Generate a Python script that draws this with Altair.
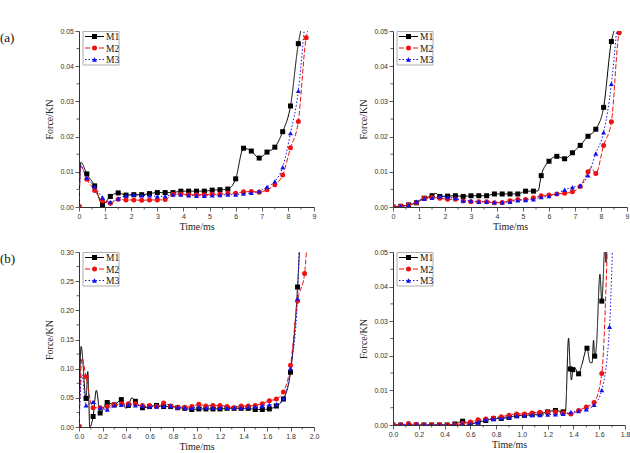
import altair as alt
import pandas as pd

SERIES = ["M1", "M2", "M3"]
COLORS = ["#000000", "#ee1111", "#1111ee"]
SHAPES = ["square", "circle", "triangle-up"]
DASHES = [[1, 0], [5, 2], [1.5, 2]]

# ---------------- panel (a), left ----------------
A1_t = [0.0, 0.3, 0.6, 0.9, 1.2, 1.5, 1.8, 2.1, 2.4, 2.7, 3.0, 3.3, 3.6, 3.9, 4.2,
        4.5, 4.8, 5.1, 5.4, 5.7, 6.0, 6.3, 6.6, 6.9, 7.2, 7.5, 7.8, 8.1, 8.4]
A1_t2 = A1_t + [8.7]
A1_m1 = [0.0, 0.0094, 0.0060, 0.0007, 0.0030, 0.0040, 0.0034, 0.0035, 0.0035, 0.0038,
         0.0041, 0.0041, 0.0041, 0.0045, 0.0045, 0.0045, 0.0045, 0.0048, 0.0049, 0.0051,
         0.0080, 0.0167, 0.0159, 0.0139, 0.0156, 0.0170, 0.0214, 0.0287, 0.0464]
A1_m2 = [0.0, 0.0079, 0.0047, 0.0017, 0.0011, 0.0022, 0.0020, 0.0020, 0.0019, 0.0020,
         0.0020, 0.0021, 0.0036, 0.0037, 0.0035, 0.0035, 0.0035, 0.0036, 0.0037, 0.0038,
         0.0039, 0.0043, 0.0044, 0.0042, 0.0049, 0.0063, 0.0091, 0.0168, 0.0243, 0.0481]
A1_m3 = [0.0, 0.0083, 0.0058, 0.0027, 0.0014, 0.0024, 0.0032, 0.0035, 0.0033, 0.0033,
         0.0030, 0.0031, 0.0035, 0.0035, 0.0033, 0.0032, 0.0032, 0.0033, 0.0034, 0.0035,
         0.0035, 0.0038, 0.0040, 0.0045, 0.0057, 0.0073, 0.0113, 0.0210, 0.0330]
A1_x1_t, A1_x1_f = [0.07, 8.49], [0.0127, 0.0500]
A1_x2_t, A1_x2_f = [0.06, 8.76], [0.0118, 0.0500]
A1_x3_t, A1_x3_f = [0.06, 8.62], [0.0115, 0.0500]

# ---------------- panel (a), right ----------------
A2_m1 = [0.0, 0.0002, 0.0006, 0.0012, 0.0025, 0.0032, 0.0030, 0.0031, 0.0032, 0.0030,
         0.0032, 0.0032, 0.0032, 0.0037, 0.0037, 0.0037, 0.0037, 0.0045, 0.0045, 0.0089,
         0.0130, 0.0144, 0.0137, 0.0154, 0.0175, 0.0201, 0.0221, 0.0283, 0.0470]
A2_m2 = [0.0, 0.0002, 0.0006, 0.0012, 0.0025, 0.0027, 0.0025, 0.0022, 0.0022, 0.0017,
         0.0015, 0.0015, 0.0015, 0.0012, 0.0013, 0.0018, 0.0021, 0.0021, 0.0026, 0.0032,
         0.0034, 0.0037, 0.0039, 0.0043, 0.0058, 0.0100, 0.0095, 0.0175, 0.0242, 0.0495]
A2_m3 = [0.0, 0.0002, 0.0005, 0.0015, 0.0024, 0.0026, 0.0030, 0.0028, 0.0025, 0.0018,
         0.0018, 0.0015, 0.0015, 0.0013, 0.0013, 0.0015, 0.0019, 0.0020, 0.0022, 0.0028,
         0.0031, 0.0038, 0.0049, 0.0056, 0.0061, 0.0090, 0.0152, 0.0212, 0.0350]
A2_x1_t, A2_x1_f = [1.65, 5.58, 8.50], [0.0039, 0.0046, 0.0500]
A2_x2_t, A2_x2_f = [7.62, 8.73], [0.0112, 0.0500]
A2_x3_t, A2_x3_f = [8.60], [0.0500]

# ---------------- panel (b), left ----------------
B1_t = [0.00, 0.06, 0.12, 0.18, 0.24, 0.30, 0.36, 0.42, 0.48, 0.54, 0.60, 0.66, 0.72,
        0.78, 0.84, 0.90, 0.96, 1.02, 1.08, 1.14, 1.20, 1.26, 1.32, 1.38, 1.44, 1.50,
        1.56, 1.62, 1.68, 1.74, 1.80, 1.86]
B1_t2 = B1_t + [1.92]
B1_m1 = [0.0, 0.049, 0.018, 0.024, 0.042, 0.038, 0.047, 0.037, 0.044, 0.033, 0.035,
         0.037, 0.035, 0.035, 0.033, 0.032, 0.030, 0.031, 0.031, 0.031, 0.031, 0.032,
         0.032, 0.032, 0.032, 0.030, 0.030, 0.031, 0.036, 0.048, 0.094, 0.240]
B1_m2 = [0.0, 0.086, 0.033, 0.033, 0.035, 0.038, 0.040, 0.040, 0.040, 0.037, 0.037,
         0.035, 0.041, 0.036, 0.034, 0.034, 0.035, 0.039, 0.036, 0.037, 0.037, 0.035,
         0.033, 0.036, 0.036, 0.037, 0.040, 0.045, 0.048, 0.060, 0.106, 0.216, 0.263]
B1_m3 = [0.0, 0.037, 0.043, 0.033, 0.030, 0.037, 0.038, 0.038, 0.037, 0.036, 0.035,
         0.035, 0.036, 0.036, 0.034, 0.033, 0.033, 0.034, 0.033, 0.033, 0.033, 0.033,
         0.033, 0.033, 0.034, 0.035, 0.036, 0.038, 0.039, 0.049, 0.100, 0.220]
B1_x1_t = [0.018, 0.075, 0.092, 0.148, 0.40, 0.45, 1.876]
B1_x1_f = [0.138, 0.095, 0.000, 0.063, 0.032, 0.050, 0.300]
B1_x2_t, B1_x2_f = [0.025, 1.935], [0.118, 0.300]
B1_x3_t, B1_x3_f = [0.025, 1.872], [0.090, 0.300]

# ---------------- panel (b), right ----------------
B2_t = [0.00, 0.06, 0.12, 0.18, 0.24, 0.30, 0.36, 0.42, 0.48, 0.54, 0.60, 0.66, 0.72,
        0.78, 0.84, 0.90, 0.96, 1.02, 1.08, 1.14, 1.20, 1.26, 1.32, 1.38, 1.44, 1.50,
        1.56, 1.62, 1.68]
B2_t1 = B2_t[:23] + [1.375, 1.395, 1.44, 1.505, 1.565, 1.62]
B2_m1 = [0.0, 0.0, 0.0, 0.0, 0.0, 0.0, 0.0, 0.0, 0.0003, 0.0011, 0.0004, 0.0008,
         0.0013, 0.0018, 0.0019, 0.0022, 0.0027, 0.0028, 0.0030, 0.0032, 0.0038, 0.0042,
         0.0038, 0.0162, 0.0160, 0.0148, 0.0222, 0.0199, 0.0358]
B2_m2 = [0.0, 0.0, 0.0004, 0.0002, 0.0, 0.0, 0.0, 0.0, 0.0001, 0.0004, 0.0009, 0.0015,
         0.0017, 0.0020, 0.0024, 0.0028, 0.0032, 0.0032, 0.0035, 0.0037, 0.0037, 0.0038,
         0.0035, 0.0032, 0.0042, 0.0052, 0.0065, 0.0149]
B2_m3 = [0.0, 0.0, 0.0001, 0.0001, 0.0001, 0.0, 0.0, 0.0, 0.0, 0.0002, 0.0003, 0.0008,
         0.0016, 0.0018, 0.0020, 0.0023, 0.0026, 0.0027, 0.0029, 0.0029, 0.0030, 0.0031,
         0.0032, 0.0037, 0.0040, 0.0045, 0.0058, 0.0101, 0.0284]
B2_x1_t = [1.338, 1.362, 1.385, 1.41, 1.465, 1.53, 1.545, 1.556, 1.578, 1.606, 1.645, 1.652, 1.66]
B2_x1_f = [0.0040, 0.0251, 0.0130, 0.0165, 0.0174, 0.0180, 0.0180, 0.0245, 0.0226, 0.0436, 0.0520, 0.0470, 0.0520]
B2_x2_t, B2_x2_f = [1.662], [0.0500]
B2_x3_t, B2_x3_f = [1.702], [0.0500]

AXIS_COLOR = "#333333"
LABEL_FONT = "Liberation Sans"
TITLE_FONT = "Liberation Serif"

color_scale = alt.Scale(domain=SERIES, range=COLORS)
shape_scale = alt.Scale(domain=SERIES, range=SHAPES)
dash_scale = alt.Scale(domain=SERIES, range=DASHES)


def frames(marked, extra):
    pts = pd.concat(
        [pd.DataFrame({"series": s, "t": t, "f": f}) for s, (t, f) in zip(SERIES, marked)],
        ignore_index=True,
    )
    ext = pd.concat(
        [pd.DataFrame({"series": s, "t": t, "f": f}) for s, (t, f) in zip(SERIES, extra)],
        ignore_index=True,
    )
    line = pd.concat([pts, ext], ignore_index=True).sort_values(["series", "t"])
    return pts, line


def legend_layers():
    box = alt.Chart(pd.DataFrame({"k": [0]})).mark_rect(
        fill="white", stroke="#9a9a9a", strokeWidth=0.8
    ).encode(x=alt.value(4), x2=alt.value(40), y=alt.value(0.5), y2=alt.value(34))
    layers = [box]
    for i, s in enumerate(SERIES):
        row = pd.DataFrame({"series": [s]})
        yy = 5.5 + 11.5 * i
        layers.append(
            alt.Chart(row).mark_rule(strokeWidth=1).encode(
                x=alt.value(6), x2=alt.value(25), y=alt.value(yy),
                color=alt.Color("series:N", scale=color_scale, legend=None),
                strokeDash=alt.StrokeDash("series:N", scale=dash_scale, legend=None),
            )
        )
        layers.append(
            alt.Chart(row).mark_point(filled=True, size=25, opacity=1).encode(
                x=alt.value(15.5), y=alt.value(yy),
                color=alt.Color("series:N", scale=color_scale, legend=None),
                shape=alt.Shape("series:N", scale=shape_scale, legend=None),
            )
        )
        layers.append(
            alt.Chart(row).mark_text(
                align="left", baseline="middle", font=TITLE_FONT, fontSize=9.5, color="#111"
            ).encode(x=alt.value(27), y=alt.value(yy + 0.5), text="series:N")
        )
    return layers


def panel(marked, extra, xdom, xticks, xminor, xfmt, ydom, yticks, yminor, w, h, tag=None):
    pts, line = frames(marked, extra)
    xs = alt.Scale(domain=xdom, nice=False, zero=False)
    ys = alt.Scale(domain=ydom, nice=False, zero=False)
    xa = alt.Axis(values=xticks, format=xfmt, title="Time/ms", grid=False,
                  labelOverlap=False, labelFlush=False, titlePadding=2)
    ya = alt.Axis(values=yticks, format=".2f", title="Force/KN", grid=False,
                  labelOverlap=False, labelFlush=False, titlePadding=5)
    # every layer carries the same scale and axis definition, so they merge cleanly
    x = alt.X("t:Q", scale=xs, axis=xa)
    y = alt.Y("f:Q", scale=ys, axis=ya)
    color = alt.Color("series:N", scale=color_scale, legend=None)

    lines = alt.Chart(line).mark_line(interpolate="monotone", strokeWidth=1, clip=True).encode(
        x=x, y=y, color=color,
        strokeDash=alt.StrokeDash("series:N", scale=dash_scale, legend=None),
        detail="series:N",
    )
    points = alt.Chart(pts).mark_point(filled=True, size=25, opacity=1, clip=True).encode(
        x=x, y=y, color=color,
        shape=alt.Shape("series:N", scale=shape_scale, legend=None),
    )
    # minor ticks on both axes
    xm = alt.Chart(pd.DataFrame({"t": xminor})).mark_rule(color=AXIS_COLOR, strokeWidth=0.8).encode(
        x=x, y=alt.value(h), y2=alt.value(h + 2.5)
    )
    ym = alt.Chart(pd.DataFrame({"f": yminor})).mark_rule(color=AXIS_COLOR, strokeWidth=0.8).encode(
        y=y, x=alt.value(0), x2=alt.value(-2.5)
    )
    layers = [lines, points, xm, ym] + legend_layers()
    if tag:
        layers.append(
            alt.Chart(pd.DataFrame({"k": [0]})).mark_text(
                align="left", baseline="top", font=TITLE_FONT, fontSize=13, color="#111"
            ).encode(x=alt.value(-79), y=alt.value(1), text=alt.value(tag))
        )
    return alt.layer(*layers).properties(width=w, height=h)


A_XT = [0, 1, 2, 3, 4, 5, 6, 7, 8, 9]
A_XM = [0.5, 1.5, 2.5, 3.5, 4.5, 5.5, 6.5, 7.5, 8.5]
A_YT = [0.0, 0.01, 0.02, 0.03, 0.04, 0.05]
A_YM = [0.005, 0.015, 0.025, 0.035, 0.045]

p1 = panel(
    [(A1_t, A1_m1), (A1_t2, A1_m2), (A1_t, A1_m3)],
    [(A1_x1_t, A1_x1_f), (A1_x2_t, A1_x2_f), (A1_x3_t, A1_x3_f)],
    [0, 9], A_XT, A_XM, "d", [0, 0.05], A_YT, A_YM, 235, 176, "(a)",
)
p2 = panel(
    [(A1_t, A2_m1), (A1_t2, A2_m2), (A1_t, A2_m3)],
    [(A2_x1_t, A2_x1_f), (A2_x2_t, A2_x2_f), (A2_x3_t, A2_x3_f)],
    [0, 9], A_XT, A_XM, "d", [0, 0.05], A_YT, A_YM, 234, 176,
)
p3 = panel(
    [(B1_t, B1_m1), (B1_t2, B1_m2), (B1_t, B1_m3)],
    [(B1_x1_t, B1_x1_f), (B1_x2_t, B1_x2_f), (B1_x3_t, B1_x3_f)],
    [0, 2.0], [0.0, 0.2, 0.4, 0.6, 0.8, 1.0, 1.2, 1.4, 1.6, 1.8, 2.0],
    [0.1, 0.3, 0.5, 0.7, 0.9, 1.1, 1.3, 1.5, 1.7, 1.9], ".1f",
    [0, 0.30], [0.0, 0.05, 0.10, 0.15, 0.20, 0.25, 0.30],
    [0.025, 0.075, 0.125, 0.175, 0.225, 0.275], 235, 175, "(b)",
)
p4 = panel(
    [(B2_t1, B2_m1), (B2_t[:28], B2_m2), (B2_t, B2_m3)],
    [(B2_x1_t, B2_x1_f), (B2_x2_t, B2_x2_f), (B2_x3_t, B2_x3_f)],
    [0, 1.8], [0.0, 0.2, 0.4, 0.6, 0.8, 1.0, 1.2, 1.4, 1.6, 1.8],
    [0.1, 0.3, 0.5, 0.7, 0.9, 1.1, 1.3, 1.5, 1.7], ".1f",
    [0, 0.05], A_YT, A_YM, 232, 173,
)

chart = alt.concat(
    p1, p2, p3, p4, columns=2, spacing={"row": 45, "column": 79}, bounds="flush"
).properties(
    padding={"left": 0, "top": 27, "right": 0, "bottom": 0}
).configure_view(stroke=None).configure_axis(
    domainColor=AXIS_COLOR,
    domainWidth=1,
    tickColor=AXIS_COLOR,
    tickSize=4,
    tickWidth=0.8,
    labelColor="#333333",
    labelFont=LABEL_FONT,
    labelFontSize=7,
    labelPadding=1.5,
    titleFont=TITLE_FONT,
    titleFontSize=10,
    titleFontWeight="normal",
    titleColor="#222222",
)

chart.save("out.html", embed_options={"renderer": "svg", "actions": False})
